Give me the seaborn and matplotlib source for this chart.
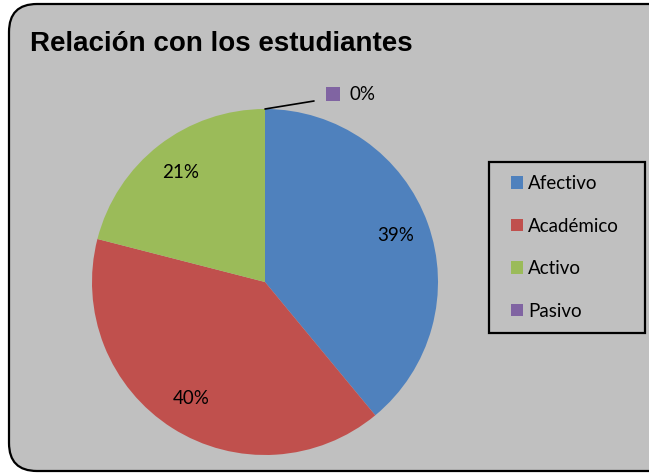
import matplotlib
matplotlib.use('Agg')
import matplotlib.pyplot as plt
from matplotlib.patches import FancyBboxPatch, Patch, Rectangle
import seaborn as sns

# ── data ────────────────────────────────────────────────
categories = ["Afectivo", "Académico", "Activo", "Pasivo"]
values = [39, 40, 21, 0]
colors = ["#4F81BD", "#C0504D", "#9BBB59", "#8064A2"]
title = "Relación con los estudiantes"

sns.set_theme(style="white")
plt.rcParams['font.family'] = ['Lato', 'DejaVu Sans']
plt.rcParams['text.color'] = 'black'

W, H = 649, 475
fig = plt.figure(figsize=(W / 100, H / 100), dpi=100)
fig.patch.set_facecolor("white")

# axes spanning the whole figure, 1 unit = 1 pixel (y upwards)
ax = fig.add_axes([0, 0, 1, 1])

# chart area: grey rounded box (right side runs past the image edge)
box = FancyBboxPatch((9, 4), 670, 467, boxstyle="round,pad=0,rounding_size=28",
                     facecolor="#C0C0C0", edgecolor="black", linewidth=1.6,
                     zorder=0)
ax.add_patch(box)

cx, cy, r = 265, 193, 173
wedges, texts, autotexts = ax.pie(
    values, colors=colors, startangle=90, counterclock=False,
    center=(cx, cy), radius=r, autopct=lambda p: f"{p:.0f}%",
    pctdistance=0.80, wedgeprops=dict(linewidth=0),
    textprops=dict(fontsize=13.5, color="black"),
)
ax.set_xlim(0, W)
ax.set_ylim(0, H)
ax.set_aspect("equal")
ax.axis("off")

# zero slice: label outside with leader line and legend key
zero = autotexts[-1]
zero.set_position((363, 381))
ax.plot([cx, 314], [cy + r, 374], color="black", linewidth=1.2)
ax.scatter([333], [381], marker="s", s=100, color=colors[-1], linewidths=0)

ax.text(30, 424, title, fontsize=20, fontweight="bold", color="black",
        family=["Liberation Sans", "DejaVu Sans"], va="baseline", ha="left")

# legend: entries from matplotlib, frame drawn as a fixed box
ax.add_patch(Rectangle((489, 142), 156, 171, facecolor="none",
                       edgecolor="black", linewidth=1.6, zorder=3))
handles = [Patch(facecolor=c, edgecolor="none") for c in colors]
ax.legend(handles, categories, loc="center left",
          bbox_to_anchor=(511, 227.5), bbox_transform=ax.transData,
          fontsize=13.5, frameon=False,
          handlelength=0.65, handleheight=0.65, handletextpad=0.28,
          labelspacing=1.36, borderpad=0, borderaxespad=0)

plt.savefig("out.png", dpi=100)
plt.close()
